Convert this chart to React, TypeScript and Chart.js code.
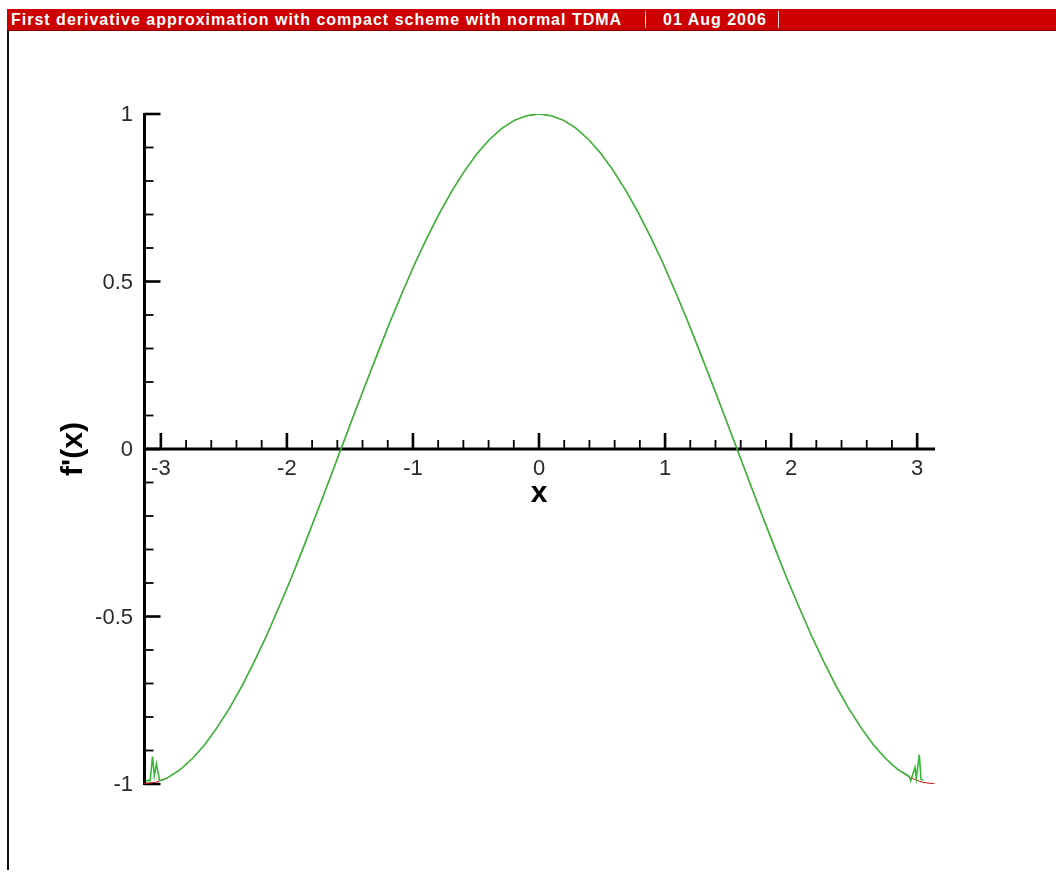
import { useEffect, useRef } from "react";
import { Chart, registerables } from "chart.js";

Chart.register(...registerables);

// Axis extent: x spans [-pi, pi], y spans [-1, 1]
const X_MIN = -3.14159;
const X_MAX = 3.14159;
const Y_MIN = -1;
const Y_MAX = 1;

// Major tick values and their labels
const xMajorTicks = [-3, -2, -1, 0, 1, 2, 3];
const xTickLabels = ["-3", "-2", "-1", "0", "1", "2", "3"];
const yMajorTicks = [-1, -0.5, 0, 0.5, 1];
const yTickLabels = ["-1", "-0.5", "0", "0.5", "1"];

// Exact derivative f'(x) sampled on the grid
const exactX = [
  -3.142, -3.043, -2.945, -2.847, -2.749, -2.651, -2.553, -2.454, -2.356, -2.258,
  -2.16, -2.062, -1.963, -1.865, -1.767, -1.669, -1.571, -1.473, -1.374, -1.276,
  -1.178, -1.08, -0.982, -0.884, -0.785, -0.687, -0.589, -0.491, -0.393, -0.295,
  -0.196, -0.098, 0, 0.098, 0.196, 0.295, 0.393, 0.491, 0.589, 0.687,
  0.785, 0.884, 0.982, 1.08, 1.178, 1.276, 1.374, 1.473, 1.571, 1.669,
  1.767, 1.865, 1.963, 2.062, 2.16, 2.258, 2.356, 2.454, 2.553, 2.651,
  2.749, 2.847, 2.945, 3.043, 3.142,
];
const exactY = [
  -1, -0.995, -0.981, -0.957, -0.924, -0.882, -0.831, -0.773, -0.707, -0.634,
  -0.556, -0.471, -0.383, -0.29, -0.195, -0.098, 0, 0.098, 0.195, 0.29,
  0.383, 0.471, 0.556, 0.634, 0.707, 0.773, 0.831, 0.882, 0.924, 0.957,
  0.981, 0.995, 1, 0.995, 0.981, 0.957, 0.924, 0.882, 0.831, 0.773,
  0.707, 0.634, 0.556, 0.471, 0.383, 0.29, 0.195, 0.098, 0, -0.098,
  -0.195, -0.29, -0.383, -0.471, -0.556, -0.634, -0.707, -0.773, -0.831, -0.882,
  -0.924, -0.957, -0.981, -0.995, -1,
];

// Compact-scheme approximation (boundary oscillations near both ends)
const approxX = [
  -3.12, -3.085, -3.066, -3.052, -3.035, -3.01, -2.985,
  -2.945, -2.847, -2.749, -2.651, -2.553, -2.454, -2.356, -2.258,
  -2.16, -2.062, -1.963, -1.865, -1.767, -1.669, -1.571, -1.473, -1.374, -1.276,
  -1.178, -1.08, -0.982, -0.884, -0.785, -0.687, -0.589, -0.491, -0.393, -0.295,
  -0.196, -0.098, 0, 0.098, 0.196, 0.295, 0.393, 0.491, 0.589, 0.687,
  0.785, 0.884, 0.982, 1.08, 1.178, 1.276, 1.374, 1.473, 1.571, 1.669,
  1.767, 1.865, 1.963, 2.062, 2.16, 2.258, 2.356, 2.454, 2.553, 2.651,
  2.749, 2.847,
  2.91, 2.938, 2.949, 2.983, 2.993, 3.017, 3.031, 3.05,
];
const approxY = [
  -0.99, -0.99, -0.918, -0.975, -0.94, -0.99, -0.988,
  -0.981, -0.957, -0.924, -0.882, -0.831, -0.773, -0.707, -0.634,
  -0.556, -0.471, -0.383, -0.29, -0.195, -0.098, 0, 0.098, 0.195, 0.29,
  0.383, 0.471, 0.556, 0.634, 0.707, 0.773, 0.831, 0.882, 0.924, 0.957,
  0.981, 0.995, 1, 0.995, 0.981, 0.957, 0.924, 0.882, 0.831, 0.773,
  0.707, 0.634, 0.556, 0.471, 0.383, 0.29, 0.195, 0.098, 0, -0.098,
  -0.195, -0.29, -0.383, -0.471, -0.556, -0.634, -0.707, -0.773, -0.831, -0.882,
  -0.924, -0.957,
  -0.971, -0.978, -0.99, -0.95, -0.983, -0.913, -0.987, -0.988,
];

const FONT = "'Liberation Sans', Arial, sans-serif";

// Draws the crossing axes, inward ticks, tick labels and axis titles
const axesPlugin = {
  id: "crossAxes",
  beforeDatasetsDraw(chart: any) {
    const { ctx } = chart;
    const xs = chart.scales.x;
    const ys = chart.scales.y;
    const left = xs.getPixelForValue(X_MIN);
    const right = xs.getPixelForValue(X_MAX);
    const top = ys.getPixelForValue(Y_MAX);
    const bottom = ys.getPixelForValue(Y_MIN);
    const y0 = ys.getPixelForValue(0);
    const axisX = left + 1.5;

    ctx.save();
    ctx.strokeStyle = "#000";
    ctx.lineCap = "butt";

    // axis lines
    ctx.lineWidth = 3;
    ctx.beginPath();
    ctx.moveTo(axisX, top - 1);
    ctx.lineTo(axisX, bottom + 1);
    ctx.stroke();
    ctx.beginPath();
    ctx.moveTo(left, y0);
    ctx.lineTo(right, y0);
    ctx.stroke();

    // y ticks (pointing right)
    for (let i = -10; i <= 10; i++) {
      const v = i / 10;
      const py = ys.getPixelForValue(v);
      const major = i % 5 === 0;
      ctx.lineWidth = major ? 2.6 : 1.8;
      ctx.beginPath();
      ctx.moveTo(axisX, py);
      ctx.lineTo(axisX + (major ? 16 : 9), py);
      ctx.stroke();
    }

    // x ticks (pointing up)
    for (let i = -15; i <= 15; i++) {
      const v = i * 0.2;
      if (v < X_MIN || v > X_MAX) continue;
      const px = xs.getPixelForValue(v);
      const major = i % 5 === 0;
      ctx.lineWidth = major ? 2.6 : 1.8;
      ctx.beginPath();
      ctx.moveTo(px, y0);
      ctx.lineTo(px, y0 - (major ? 16 : 9));
      ctx.stroke();
    }

    // tick labels
    ctx.fillStyle = "#2a2a2a";
    ctx.font = `22px ${FONT}`;
    ctx.textAlign = "right";
    ctx.textBaseline = "middle";
    yMajorTicks.forEach((v, i) => {
      ctx.fillText(yTickLabels[i], left - 10, ys.getPixelForValue(v) + 1);
    });
    ctx.textAlign = "center";
    ctx.textBaseline = "top";
    xMajorTicks.forEach((v, i) => {
      ctx.fillText(xTickLabels[i], xs.getPixelForValue(v), y0 + 9);
    });

    // axis titles
    ctx.fillStyle = "#000";
    ctx.font = `bold 30px ${FONT}`;
    ctx.textAlign = "center";
    ctx.textBaseline = "middle";
    ctx.fillText("x", xs.getPixelForValue(0), y0 + 45);
    ctx.translate(74, y0);
    ctx.rotate(-Math.PI / 2);
    ctx.fillText("f'(x)", 0, 0);
    ctx.restore();
  },
};

export default function App() {
  const canvasRef = useRef<HTMLCanvasElement | null>(null);

  useEffect(() => {
    const canvas = canvasRef.current;
    if (!canvas) return;
    const chart = new Chart(canvas, {
      type: "scatter",
      data: {
        datasets: [
          {
            label: "compact scheme",
            data: approxX.map((x, i) => ({ x, y: approxY[i] })),
            showLine: true,
            borderColor: "#38b838",
            borderWidth: 1.6,
            pointRadius: 0,
            tension: 0,
          },
          {
            label: "exact",
            data: exactX.map((x, i) => ({ x, y: exactY[i] })),
            showLine: true,
            borderColor: "#d01010",
            borderWidth: 1,
            pointRadius: 0,
            tension: 0,
          },
        ],
      },
      options: {
        responsive: false,
        animation: false,
        devicePixelRatio: 1,
        layout: { padding: { left: 143, right: 121, top: 114, bottom: 92 } },
        plugins: { legend: { display: false }, tooltip: { enabled: false } },
        scales: {
          x: { type: "linear", min: X_MIN, max: X_MAX, display: false },
          y: { type: "linear", min: Y_MIN, max: Y_MAX, display: false },
        },
      },
      plugins: [axesPlugin],
    });
    return () => chart.destroy();
  }, []);

  const headerText: React.CSSProperties = {
    position: "absolute",
    top: 0,
    height: 21,
    lineHeight: "21px",
    color: "#fff",
    fontFamily: FONT,
    fontWeight: "bold",
    fontSize: 16,
    letterSpacing: "1px",
    whiteSpace: "nowrap",
  };
  const sep: React.CSSProperties = {
    position: "absolute",
    top: 2,
    width: 1,
    height: 17,
    background: "#f4dada",
  };

  return (
    <div
      style={{
        position: "absolute",
        left: 0,
        top: 0,
        width: 1056,
        height: 876,
        overflow: "hidden",
        background: "#fff",
      }}
    >
      <canvas
        ref={canvasRef}
        width={1056}
        height={876}
        style={{ position: "absolute", left: 0, top: 0, width: 1056, height: 876 }}
      />
      <div
        style={{
          position: "absolute",
          left: 7,
          top: 9,
          width: 1049,
          height: 22,
          background: "#cc0000",
          borderBottom: "1px solid #7a0000",
          boxSizing: "border-box",
        }}
      >
        <span style={{ ...headerText, left: 4 }}>
          First derivative approximation with compact scheme with normal TDMA
        </span>
        <div style={{ ...sep, left: 638 }} />
        <span style={{ ...headerText, left: 656 }}>01 Aug 2006</span>
        <div style={{ ...sep, left: 771 }} />
      </div>
      <div
        style={{
          position: "absolute",
          left: 7,
          top: 31,
          width: 2,
          height: 839,
          background: "#111",
        }}
      />
    </div>
  );
}
